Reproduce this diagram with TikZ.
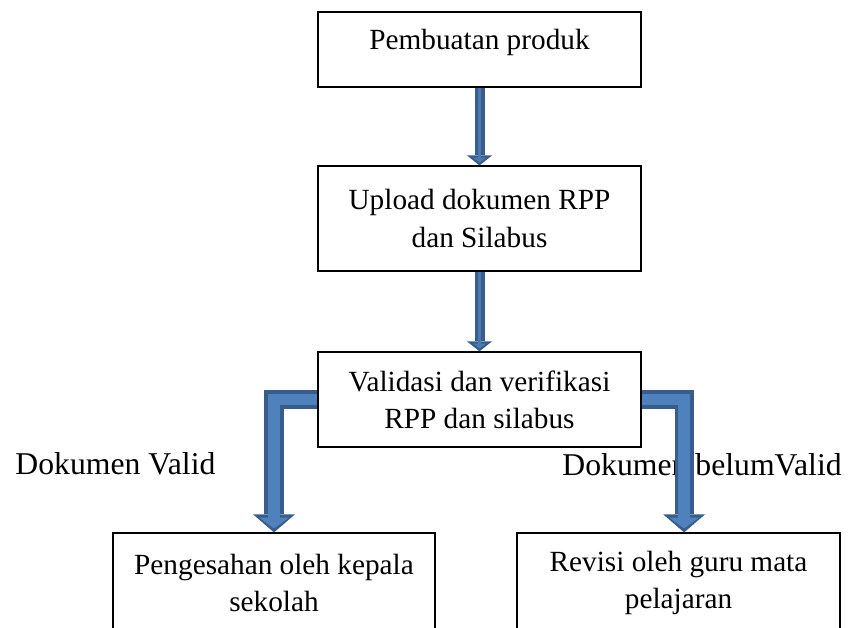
\documentclass[tikz,border=0pt]{standalone}
\usepackage{fontspec}
\setmainfont{Liberation Serif}
\usetikzlibrary{arrows.meta}
\definecolor{arrowdark}{RGB}{56,93,138}
\definecolor{arrowfill}{RGB}{79,129,189}
\tikzset{
	box/.style={draw=black, line width=0.5pt, rectangle, minimum width=132.4pt, align=center, inner sep=0pt, font=\fontsize{12}{15.2}\selectfont},
	lbl/.style={inner sep=0pt, font=\fontsize{13}{15.6}\selectfont},
	blkout/.style={draw=arrowdark, line width=7.8pt, -{Triangle[width=17.2pt, length=7.4pt, line width=0pt]}},
	blkin/.style={draw=arrowfill, line width=4.9pt, shorten >=1.6pt, -{Triangle[width=12.3pt, length=4.5pt, line width=0pt]}},
	thinout/.style={draw=arrowdark, line width=4.1pt, -{Triangle[width=10.3pt, length=4.1pt, line width=0pt]}},
	thinin/.style={draw=arrowfill!80!arrowdark, line width=1.2pt, shorten >=1.2pt, -{Triangle[width=5.2pt, length=2pt, line width=0pt]}}
}

\begin{document}
\begin{tikzpicture}[x=0.41pt, y=-0.41pt]
			%%%%% START %%%%%
			
			\clip (0, 0) rectangle (851, 628);
			
			\node[box, minimum height=30.8pt, text depth=8.3pt] (produk) at (479.5, 49.5) {Pembuatan produk};
			\node[box, minimum height=43pt] (upload) at (479.5, 218.5) {Upload dokumen RPP\\dan Silabus};
			\node[box, minimum height=39pt] (validasi) at (479.5, 399.5) {Validasi dan verifikasi\\RPP dan silabus};
			
			\node[box, minimum height=41pt, minimum width=132pt] (pengesahan) at (274, 583) {Pengesahan oleh kepala\\sekolah};
			\node[box, minimum height=41pt] (revisi) at (678.5, 583) {Revisi oleh guru mata\\pelajaran};
			
			\node[lbl, anchor=base west] (valid) at (15, 474) {Dokumen Valid};
			\node[lbl, anchor=base west] (belumvalid) at (562, 475) {Dokumen belumValid};
			
			\draw[thinout] (produk.south) -- (upload.north);
			\draw[thinin] (produk.south) -- (upload.north);
			\draw[thinout] (upload.south) -- (validasi.north);
			\draw[thinin] (upload.south) -- (validasi.north);
			
			\draw[blkout] (validasi.west) -| (pengesahan.north);
			\draw[blkin] (validasi.west) -| (pengesahan.north);
			\draw[blkout] (validasi.east) -| ([xshift=2.3pt]revisi.north);
			\draw[blkin] (validasi.east) -| ([xshift=2.3pt]revisi.north);
			
			%%%%% END %%%%%
\end{tikzpicture}
\end{document}
